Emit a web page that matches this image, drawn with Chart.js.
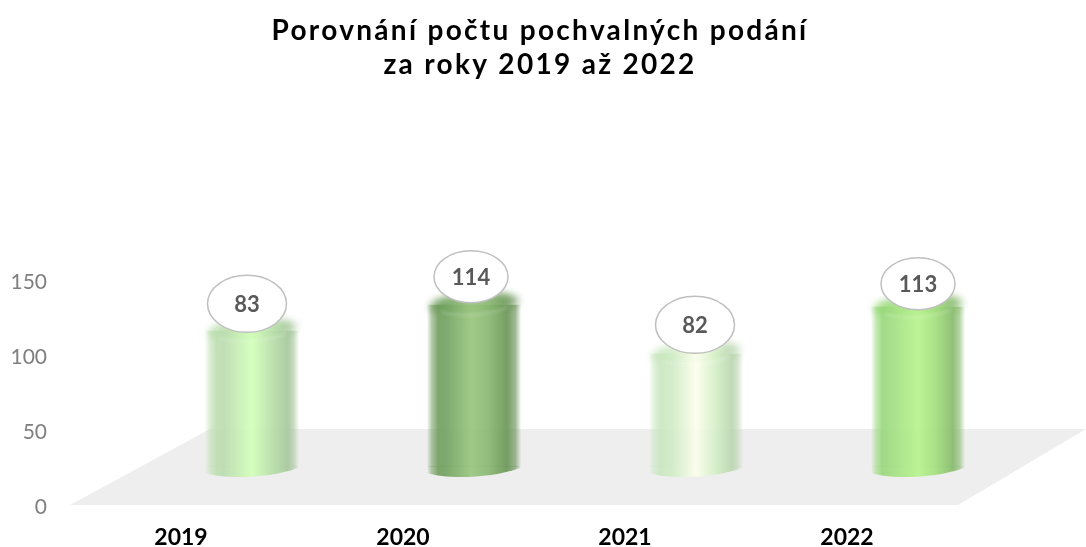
<!DOCTYPE html>
<html><head><meta charset="utf-8">
<style>html,body{margin:0;padding:0;background:#fff}#w{width:1086px;height:547px}</style>
<script src="https://cdn.jsdelivr.net/npm/chart.js@4"></script></head>
<body><div id="w"><canvas id="c"></canvas></div>
<script>
const categories = ['2019','2020','2021','2022'];
const valueLabels = [83,114,82,113];
// Cylinder extent as read against the picture's axis
const cylinderBase = [26.7,26.7,26.7,26.7];
const cylinderTop = [117.3,134.7,102,133.3];
const yTicks = [0,50,100,150];
const titleLines = ['Porovnání počtu pochvalných podání','za roky 2019 až 2022'];

const palettes = [
  [[0,'rgba(190,222,178,0)'],[.05,'rgba(188,222,176,.55)'],[.12,'rgba(188,222,176,.95)'],[.2,'#bcdcb0'],[.5,'#d2ffba'],[.68,'#bde3ad'],[.88,'#a6c89d'],[.94,'rgba(170,200,160,.7)'],[1,'rgba(170,200,160,0)']],
  [[0,'rgba(110,155,90,0)'],[.05,'rgba(110,155,90,.55)'],[.12,'rgba(110,155,90,.95)'],[.2,'#73a463'],[.47,'#9ac67f'],[.65,'#8ab873'],[.85,'#6c9758'],[.94,'rgba(110,150,95,.7)'],[1,'rgba(110,150,95,0)']],
  [[0,'rgba(200,230,190,0)'],[.05,'rgba(200,230,190,.55)'],[.12,'rgba(200,230,190,.95)'],[.25,'#d0ecc6'],[.5,'#fcfdec'],[.7,'#d5f0c8'],[.88,'#bcd6b2'],[.94,'rgba(190,215,180,.7)'],[1,'rgba(190,215,180,0)']],
  [[0,'rgba(150,215,120,0)'],[.05,'rgba(150,215,120,.55)'],[.12,'rgba(150,215,120,.95)'],[.2,'#a0dc82'],[.5,'#b8f38f'],[.68,'#a5e07f'],[.87,'#88bb6e'],[.94,'rgba(140,190,115,.7)'],[1,'rgba(140,190,115,0)']]
];
const depthX = 71;
const barShare = 0.425;
const bubbleDx = [-5,-3,-1,0];
const bubbleDy = [-27,-28,-29,-23];

function bodyGradient(chart, i){
  const xs = chart.scales.x;
  if(!xs) return '#b8f38f';
  const w = (xs.right - xs.left)/categories.length*barShare;
  const cx = xs.getPixelForValue(i);
  if(!isFinite(w) || !isFinite(cx)) return '#b8f38f';
  const g = chart.ctx.createLinearGradient(cx-w/2,0,cx+w/2,0);
  palettes[i].forEach(s=>g.addColorStop(s[0],s[1]));
  return g;
}

const cylinder = {
  id:'cylinder',
  afterLayout(chart){
    const t = chart.titleBlock;
    if(t && !t._wrapped){
      const orig = t.draw.bind(t);
      t.draw = function(){
        const c = chart.ctx; c.save();
        c.translate(61,0);
        c.letterSpacing='2.3px';
        orig();
        c.restore();
      };
      t._wrapped = true;
    }
  },
  beforeDatasetsDraw(chart){
    const {ctx,scales:{x,y}} = chart;
    const front = y.getPixelForValue(0)-2;
    const back = y.getPixelForValue(52);
    ctx.save();
    ctx.fillStyle='#eeeeee';
    ctx.beginPath();
    ctx.moveTo(x.left,front);
    ctx.lineTo(x.right,front);
    ctx.lineTo(x.right+128,back);
    ctx.lineTo(x.left+140,back);
    ctx.closePath();
    ctx.fill();
    ctx.restore();
  },
  beforeDatasetDraw(chart){
    chart.ctx.save();
    chart.ctx.translate(depthX,0);
    chart.ctx.globalAlpha=.93;
  },
  afterDatasetDraw(chart,args){
    const ctx = chart.ctx;
    args.meta.data.forEach((el,i)=>{
      const g = bodyGradient(chart,i);
      const l = el.x-el.width/2, r = el.x+el.width/2;
      // curved foot
      ctx.save();
      ctx.filter='blur(0.5px)';
      ctx.fillStyle=g;
      ctx.beginPath();
      ctx.moveTo(l+1,el.base-.5);
      ctx.lineTo(l+1,el.base+6);
      ctx.bezierCurveTo(l+18,el.base+12,r-32,el.base+12,r-1,el.base+1);
      ctx.lineTo(r-1,el.base-.5);
      ctx.closePath();
      ctx.fill();
      ctx.restore();
      // soft top surface
      ctx.save();
      ctx.filter='blur(3.5px)';
      ctx.fillStyle=g;
      ctx.beginPath();
      ctx.ellipse(el.x,el.y-1,el.width/2,11,-0.07,0,Math.PI*2);
      ctx.fill();
      ctx.restore();
      // front rim highlight
      ctx.save();
      ctx.filter='blur(1.5px)';
      ctx.strokeStyle='rgba(255,255,255,.16)';
      ctx.lineWidth=3;
      ctx.beginPath();
      ctx.ellipse(el.x,el.y,el.width/2-10,10,-0.07,0.45,Math.PI-0.45);
      ctx.stroke();
      ctx.restore();
    });
    ctx.restore();
  },
  afterDatasetsDraw(chart){
    const ctx = chart.ctx;
    chart.getDatasetMeta(0).data.forEach((el,i)=>{
      const three = String(valueLabels[i]).length>2;
      const cx = el.x+depthX+bubbleDx[i], cy = el.y+bubbleDy[i];
      ctx.save();
      ctx.fillStyle='#ffffff';
      ctx.strokeStyle='#bfbfbf';
      ctx.lineWidth=1.5;
      ctx.beginPath();
      ctx.ellipse(cx,cy,three?37:39.5,three?26:28.5,0,0,Math.PI*2);
      ctx.fill();ctx.stroke();
      ctx.fillStyle='#595959';
      ctx.font='bold 22px Lato';
      ctx.textAlign='center';ctx.textBaseline='middle';
      ctx.fillText(String(valueLabels[i]),cx,cy+1);
      ctx.restore();
    });
  }
};

new Chart(document.getElementById('c'),{
  type:'bar',
  data:{labels:categories,datasets:[{
    label:'Pochvalná podání',
    data:cylinderTop.map((t,i)=>[cylinderBase[i],t]),
    backgroundColor:c=>c.dataIndex===undefined?'#b8f38f':bodyGradient(c.chart,c.dataIndex),
    borderWidth:0,
    barPercentage:barShare,
    categoryPercentage:1
  }]},
  options:{
    responsive:true,maintainAspectRatio:false,animation:false,
    layout:{padding:{left:0,right:128,top:0,bottom:0}},
    plugins:{
      legend:{display:false},
      tooltip:{enabled:false},
      title:{display:true,text:titleLines,color:'#000000',
        font:{family:'Lato',size:28,weight:'bold',lineHeight:1.21},
        padding:{top:14,bottom:200}}
    },
    scales:{
      x:{grid:{display:false},border:{display:false},
        ticks:{color:'#000000',font:{family:'Lato',size:23,weight:'bold'},padding:9,maxRotation:0},
        afterFit(s){s.height=40;}},
      y:{min:0,max:150,grid:{display:false},border:{display:false},
        afterBuildTicks(s){s.ticks=yTicks.map(v=>({value:v}));},
        ticks:{color:'#7f7f7f',font:{family:'Lato',size:21},padding:15},
        afterFit(s){s.width=70;}}
    }
  },
  plugins:[cylinder]
});
</script></body></html>
